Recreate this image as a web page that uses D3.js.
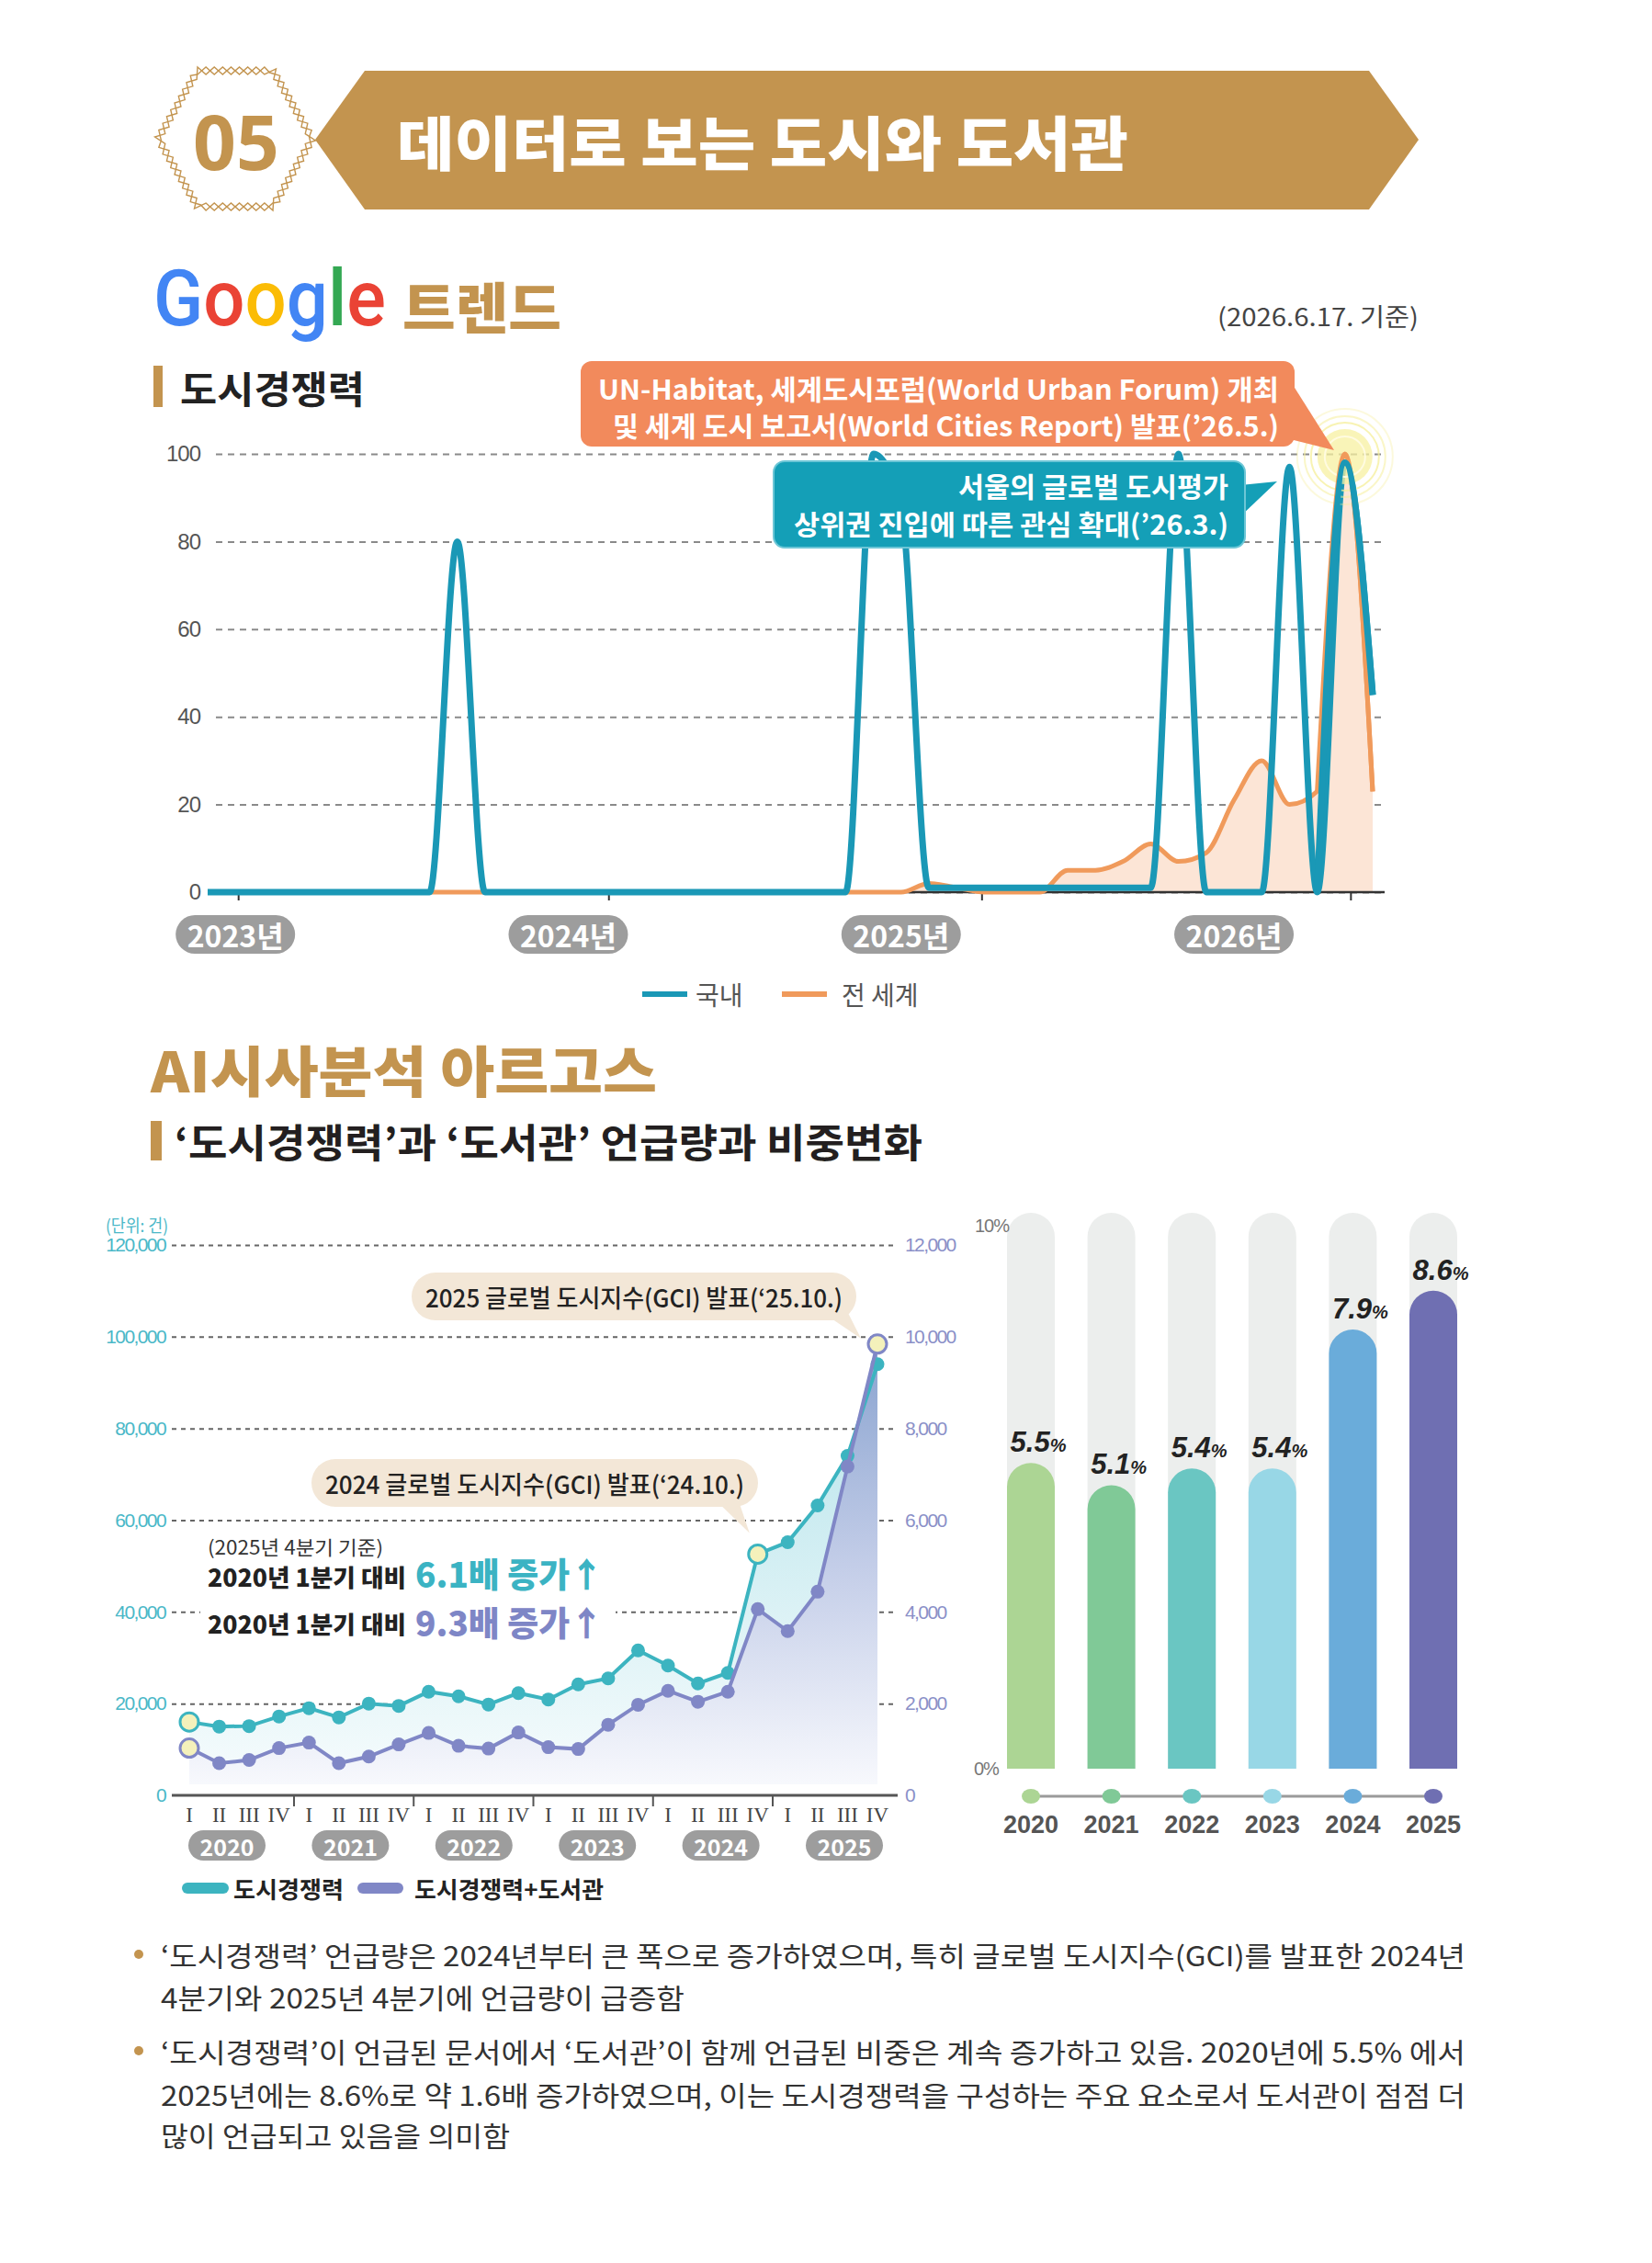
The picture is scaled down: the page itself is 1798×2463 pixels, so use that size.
<!DOCTYPE html>
<html>
<head>
<meta charset="utf-8">
<script src="https://cdn.jsdelivr.net/npm/d3@7"></script>
<style>
  body { margin: 0; background: #fff; }
  svg { display: block; }
</style>
</head>
<body>
<svg id="page"></svg>
<script>
// ---------- data ----------
// Google 트렌드 (도시경쟁력) : relative interest, monthly from 2022-12 to 2026-06
const trendMonths = d3.timeMonth.range(new Date(2022, 11, 1), new Date(2026, 6, 1)).map(d3.timeFormat('%Y-%m'));
const trendYearLabels = ['2023년', '2024년', '2025년', '2026년'];
const trendYearMonths = ['2023-01', '2024-01', '2025-01', '2026-01'];
const trendYearTicks = [1.1, 14.45, 27.9, 41.2];
const trendYTicks = [0, 20, 40, 60, 80, 100];
const trendDomestic = [0, 0, 0, 0, 0, 0, 0, 0, 0, 80, 0, 0, 0, 0, 0, 0, 0, 0, 0, 0, 0, 0, 0, 0,
                       100, 88, 1, 1, 1, 1, 1, 1, 1, 1, 1, 100, 0, 0, 0, 97, 0, 98, 45];
const trendWorld = [0, 0, 0, 0, 0, 0, 0, 0, 0, 0, 0, 0, 0, 0, 0, 0, 0, 0, 0, 0, 0, 0, 0, 0,
                    0, 0, 2, 1, 0, 0, 0, 5, 5, 7, 11, 7, 9, 21, 30, 20, 23, 100, 23];

// 아르고스 : quarterly mention counts
const quarterYears = ['2020', '2021', '2022', '2023', '2024', '2025'];
const quarterNames = ['I', 'II', 'III', 'IV'];
const cityMentions = [16000, 15000, 15100, 17200, 19000, 17000, 20000, 19500,
                      22600, 21600, 19800, 22300, 20900, 24200, 25500, 31600,
                      28300, 24400, 26700, 52600, 55200, 63200, 74000, 94000];
const cityLibMentions = [1030, 700, 770, 1030, 1150, 700, 845, 1110,
                         1360, 1080, 1020, 1370, 1050, 1010, 1540, 1975,
                         2280, 2040, 2260, 4060, 3580, 4440, 7170, 9840];
const leftTicks = [0, 20000, 40000, 60000, 80000, 100000, 120000];
const rightTicks = [0, 2000, 4000, 6000, 8000, 10000, 12000];

// 비중 (%)
const shareYears = ['2020', '2021', '2022', '2023', '2024', '2025'];
const shareValues = [5.5, 5.1, 5.4, 5.4, 7.9, 8.6];
const shareColors = ['#acd594', '#80c997', '#6ac6c2', '#98d7e6', '#6aacda', '#6f6fb2'];

// ---------- page ----------
const W = 1798, H = 2463;
const GOLD = '#c3944f';
const KR = "'Noto Sans CJK KR', 'Noto Sans', sans-serif";
const LAT = "'Liberation Sans', Arial, sans-serif";

const svg = d3.select('#page').attr('width', W).attr('height', H);

function label(g, x, y, s, o) {
    o = o || {};
    const t = g.append('text')
        .attr('x', x).attr('y', y)
        .attr('dominant-baseline', 'central')
        .attr('text-anchor', o.anchor || 'start')
        .style('font-family', o.font || KR)
        .style('font-size', (o.size || 28) + 'px')
        .style('font-weight', o.weight || 400)
        .style('fill', o.color || '#222')
        .text(s);
    if (o.ls) t.style('letter-spacing', o.ls + 'px');
    if (o.len) t.attr('textLength', o.len).attr('lengthAdjust', 'spacingAndGlyphs');
    return t;
}

// ---------- header ----------
function drawHeader() {
    const g = svg.append('g');

    // zigzag badge around "05"
    const hex = [[215, 77], [297, 77], [340, 151], [297, 225], [215, 225], [172, 151]];
    const pts = [];
    hex.forEach((p, k) => {
        const q = hex[(k + 1) % hex.length];
        const len = Math.hypot(q[0] - p[0], q[1] - p[1]);
        const n = Math.max(2, Math.round(len / 9));
        const nx = (q[1] - p[1]) / len, ny = -(q[0] - p[0]) / len;
        for (let j = 0; j < n; j++) {
            pts.push({ x: p[0] + (q[0] - p[0]) * j / n, y: p[1] + (q[1] - p[1]) * j / n, nx: nx, ny: ny });
        }
    });
    [1, -1].forEach(sign => {
        const line = pts.map((p, i) => {
            const s = (i % 2 ? 1 : -1) * sign * 4;
            return [p.x + p.nx * s, p.y + p.ny * s];
        });
        g.append('path')
            .attr('d', d3.line().curve(d3.curveLinearClosed)(line))
            .attr('fill', 'none').attr('stroke', GOLD).attr('stroke-width', 1.4);
    });
    label(g, 257, 153, '05', { anchor: 'middle', size: 82, weight: 700, color: GOLD, font: "'Noto Sans', sans-serif" });

    // banner
    g.append('path')
        .attr('d', d3.line()([[343, 152], [397, 77], [1490, 77], [1544, 152], [1490, 228], [397, 228]]) + 'Z')
        .attr('fill', GOLD);
    label(g, 432, 152, '데이터로 보는 도시와 도서관', { size: 64, weight: 900, color: '#fff', len: 796 });

    // Google 트렌드
    const gt = g.append('text').attr('x', 167).attr('y', 354)
        .style('font-family', "Roboto, 'Open Sans', sans-serif")
        .style('font-size', '86px').style('font-weight', 500)
        .attr('textLength', 253).attr('lengthAdjust', 'spacingAndGlyphs');
    [['G', '#4285f4'], ['o', '#ea4335'], ['o', '#fbbc05'], ['g', '#4285f4'], ['l', '#34a853'], ['e', '#ea4335']]
        .forEach(c => gt.append('tspan').style('fill', c[1]).text(c[0]));
    label(g, 438, 331, '트렌드', { size: 60, weight: 900, color: GOLD, len: 173 });
    label(g, 1544, 343, '(2026.6.17. 기준)', { anchor: 'end', size: 27, color: '#444', len: 219 });

    g.append('rect').attr('x', 167).attr('y', 398).attr('width', 10).attr('height', 45).attr('fill', GOLD);
    label(g, 196, 421, '도시경쟁력', { size: 41, weight: 700, color: '#222', len: 201 });

    // second section titles
    label(g, 164, 1162, 'AI시사분석 아르고스', { size: 60, weight: 900, color: GOLD, len: 551 });
    g.append('rect').attr('x', 164).attr('y', 1220).attr('width', 12).attr('height', 43).attr('fill', GOLD);
    label(g, 190, 1241, '‘도시경쟁력’과 ‘도서관’ 언급량과 비중변화', { size: 43, weight: 700, color: '#231f20', len: 814 });
}

// ---------- Google trend chart ----------
function drawTrend() {
    const g = svg.append('g');
    const x = d3.scaleLinear().domain([0, trendMonths.length - 1]).range([226, 1494]);
    const y = d3.scaleLinear().domain([0, 100]).range([971, 494]);
    const gridLeft = 235, gridRight = 1507;

    // grid + y labels
    const yAxis = g.append('g')
        .attr('transform', `translate(${gridLeft},0)`)
        .call(d3.axisLeft(y).tickValues(trendYTicks).tickSize(-(gridRight - gridLeft)).tickPadding(17));
    yAxis.select('.domain').remove();
    yAxis.selectAll('.tick line')
        .attr('stroke', '#8a8a8a').attr('stroke-width', 2).attr('stroke-dasharray', '7,6');
    yAxis.selectAll('.tick text')
        .style('font-family', LAT).style('font-size', '24px').style('fill', '#555').style('letter-spacing', '-1px');

    // series
    const curve = d3.curveMonotoneX;
    g.append('path').datum(trendWorld)
        .attr('d', d3.area().x((d, i) => x(i)).y0(y(0)).y1(d => y(d)).curve(curve))
        .attr('fill', '#fce5d6');

    // x axis
    g.append('line').attr('x1', 226).attr('x2', gridRight).attr('y1', y(0)).attr('y2', y(0))
        .attr('stroke', '#333').attr('stroke-width', 2.5);
    const xAxis = g.append('g')
        .attr('transform', `translate(0,${y(0)})`)
        .call(d3.axisBottom(x).tickValues(trendYearTicks).tickSize(9).tickFormat(''));
    xAxis.select('.domain').remove();
    xAxis.selectAll('.tick line').attr('stroke', '#333').attr('stroke-width', 2);

    g.append('path').datum(trendWorld)
        .attr('d', d3.line().x((d, i) => x(i)).y(d => y(d)).curve(curve))
        .attr('fill', 'none').attr('stroke', '#f09a5b').attr('stroke-width', 5);
    g.append('path').datum(trendDomestic)
        .attr('d', d3.line().x((d, i) => x(i)).y(d => y(d)).curve(curve))
        .attr('fill', 'none').attr('stroke', '#1a98b6').attr('stroke-width', 7).attr('stroke-linejoin', 'round');

    // year pills at each January
    trendYearMonths.forEach((m, i) => {
        const cx = x(trendMonths.indexOf(m));
        g.append('rect').attr('x', cx - 65).attr('y', 996).attr('width', 130).attr('height', 42)
            .attr('rx', 21).attr('fill', '#9d9d9d');
        label(g, cx, 1017, trendYearLabels[i], { anchor: 'middle', size: 32, weight: 700, color: '#fff' });
    });

    // glow on world peak
    const peak = trendWorld.indexOf(d3.max(trendWorld));
    const gx = x(peak), gy = y(trendWorld[peak]) + 3;
    [52, 44, 37].forEach((r, k) => {
        g.append('circle').attr('cx', gx).attr('cy', gy).attr('r', r)
            .attr('fill', 'none').attr('stroke', '#f6ef9a').attr('stroke-width', 2).attr('opacity', 0.35 + k * 0.2);
    });
    g.append('circle').attr('cx', gx).attr('cy', gy).attr('r', 30).attr('fill', '#f7f0a0').attr('opacity', 0.75);
    g.append('circle').attr('cx', gx).attr('cy', gy).attr('r', 22).attr('fill', 'none')
        .attr('stroke', '#fffbe0').attr('stroke-width', 2);
    // redraw the peak on top of the glow
    g.append('path').datum(trendWorld)
        .attr('d', d3.line().x((d, i) => x(i)).y(d => y(d)).curve(curve).defined((d, i) => i >= peak - 1))
        .attr('fill', 'none').attr('stroke', '#f09a5b').attr('stroke-width', 5);
    g.append('path').datum(trendDomestic)
        .attr('d', d3.line().x((d, i) => x(i)).y(d => y(d)).curve(curve).defined((d, i) => i >= peak - 1))
        .attr('fill', 'none').attr('stroke', '#1a98b6').attr('stroke-width', 7);

    // orange callout
    g.append('path').attr('d', 'M1404,414 L1404,478 L1452,490 Z').attr('fill', '#f28a5c');
    g.append('rect').attr('x', 632).attr('y', 393).attr('width', 777).attr('height', 93).attr('rx', 12)
        .attr('fill', '#f28a5c');
    label(g, 1392, 422, 'UN-Habitat, 세계도시포럼(World Urban Forum) 개최', { anchor: 'end', size: 30, weight: 700, color: '#fff', len: 741 });
    label(g, 1392, 462, '및 세계 도시 보고서(World Cities Report) 발표(’26.5.)', { anchor: 'end', size: 30, weight: 700, color: '#fff', len: 725 });

    // teal callout
    g.append('path').attr('d', 'M1350,528 L1350,562 L1390,524 Z').attr('fill', '#149fb7');
    g.append('rect').attr('x', 842).attr('y', 502).attr('width', 513).attr('height', 94).attr('rx', 12)
        .attr('fill', '#149fb7').attr('stroke', '#6cc6d6').attr('stroke-width', 2);
    label(g, 1337, 528, '서울의 글로벌 도시평가', { anchor: 'end', size: 30, weight: 700, color: '#fff', len: 294 });
    label(g, 1337, 569, '상위권 진입에 따른 관심 확대(’26.3.)', { anchor: 'end', size: 30, weight: 700, color: '#fff', len: 473 });

    // legend
    g.append('line').attr('x1', 699).attr('x2', 748).attr('y1', 1082).attr('y2', 1082)
        .attr('stroke', '#1a98b6').attr('stroke-width', 6);
    label(g, 757, 1082, '국내', { size: 28, color: '#555' });
    g.append('line').attr('x1', 851).attr('x2', 900).attr('y1', 1082).attr('y2', 1082)
        .attr('stroke', '#f09a5b').attr('stroke-width', 6);
    label(g, 916, 1082, '전 세계', { size: 28, color: '#555' });
}

// ---------- quarterly mentions chart ----------
function drawQuarter() {
    const g = svg.append('g');
    const x = d3.scaleLinear().domain([0, cityMentions.length - 1]).range([206, 955]);
    const yL = d3.scaleLinear().domain([0, 120000]).range([1954, 1355]);
    const yR = d3.scaleLinear().domain([0, 12000]).range([1954, 1355]);
    const pill = d3.scalePoint().domain(quarterYears).range([247, 919]);
    const left = 187, right = 977;
    const TEAL = '#3cb4c0', PURP = '#8087c6';

    const defs = svg.append('defs');
    const gradA = defs.append('linearGradient').attr('id', 'gTeal')
        .attr('gradientUnits', 'userSpaceOnUse').attr('x1', 0).attr('x2', 0).attr('y1', 1480).attr('y2', 1945);
    gradA.append('stop').attr('offset', 0).attr('stop-color', '#b4e3ea');
    gradA.append('stop').attr('offset', 1).attr('stop-color', '#f7fcfd');
    const gradB = defs.append('linearGradient').attr('id', 'gPurp')
        .attr('gradientUnits', 'userSpaceOnUse').attr('x1', 0).attr('x2', 0).attr('y1', 1460).attr('y2', 1945);
    gradB.append('stop').attr('offset', 0).attr('stop-color', '#88a2cf');
    gradB.append('stop').attr('offset', 0.5).attr('stop-color', '#c3cde8');
    gradB.append('stop').attr('offset', 1).attr('stop-color', '#f8f9fd');

    // grid + axes labels
    const ax = g.append('g').attr('transform', `translate(${left},0)`)
        .call(d3.axisLeft(yL).tickValues(leftTicks).tickFormat(d3.format(','))
            .tickSize(-(right - left)).tickPadding(7));
    ax.select('.domain').remove();
    ax.selectAll('.tick line').attr('stroke', '#666').attr('stroke-width', 2).attr('stroke-dasharray', '5,5')
        .filter(d => d === 0).remove();
    ax.selectAll('.tick text').style('font-family', LAT).style('font-size', '21px')
        .style('fill', '#4ab8c8').style('letter-spacing', '-1.6px');
    const axR = g.append('g').attr('transform', `translate(${right},0)`)
        .call(d3.axisRight(yR).tickValues(rightTicks).tickFormat(d3.format(',')).tickSize(0).tickPadding(8));
    axR.select('.domain').remove();
    axR.selectAll('.tick text').style('font-family', LAT).style('font-size', '21px')
        .style('fill', '#8a90c8').style('letter-spacing', '-1.6px');
    label(g, 115, 1332, '(단위: 건)', { size: 19, color: '#4ab8c8', len: 68 });

    // areas
    const base = yL(0) - 12;
    g.append('path').datum(cityMentions)
        .attr('d', d3.area().x((d, i) => x(i)).y0(base).y1(d => yL(d)))
        .attr('fill', 'url(#gTeal)');
    g.append('path').datum(cityLibMentions)
        .attr('d', d3.area().x((d, i) => x(i)).y0(base).y1(d => yR(d)))
        .attr('fill', 'url(#gPurp)');

    // text block (drawn before lines so it can hide the grid)
    g.append('rect').attr('x', 218).attr('y', 1742).attr('width', 452).attr('height', 46).attr('fill', '#fff');
    label(g, 226, 1683, '(2025년 4분기 기준)', { size: 21, color: '#333', len: 191 });
    label(g, 226, 1715, '2020년 1분기 대비', { size: 26, weight: 900, color: '#222', len: 216 });
    label(g, 452, 1712, '6.1배 증가↑', { size: 37, weight: 900, color: '#3bb3c3', len: 205 });
    label(g, 226, 1766, '2020년 1분기 대비', { size: 26, weight: 900, color: '#222', len: 216 });
    label(g, 452, 1765, '9.3배 증가↑', { size: 37, weight: 900, color: '#7e86c6', len: 205 });

    // lines + points
    [[cityMentions, yL, TEAL, [0, 19]], [cityLibMentions, yR, PURP, [0, 23]]].forEach(s => {
        const vals = s[0], ys = s[1], col = s[2], hi = s[3];
        g.append('path').datum(vals)
            .attr('d', d3.line().x((d, i) => x(i)).y(d => ys(d)))
            .attr('fill', 'none').attr('stroke', col).attr('stroke-width', 4);
        g.selectAll(null).data(vals).enter().append('circle')
            .attr('cx', (d, i) => x(i)).attr('cy', d => ys(d))
            .attr('r', (d, i) => hi.includes(i) ? 10 : 7.5)
            .attr('fill', (d, i) => hi.includes(i) ? '#f4f1bb' : col)
            .attr('stroke', col).attr('stroke-width', (d, i) => hi.includes(i) ? 3 : 0);
    });

    // x axis
    g.append('line').attr('x1', left).attr('x2', right).attr('y1', yL(0)).attr('y2', yL(0))
        .attr('stroke', '#555').attr('stroke-width', 3);
    quarterYears.forEach((yr, k) => {
        if (k === 0) return;
        const sx = (x(k * 4 - 1) + x(k * 4)) / 2;
        g.append('line').attr('x1', sx).attr('x2', sx).attr('y1', yL(0)).attr('y2', yL(0) + 12)
            .attr('stroke', '#555').attr('stroke-width', 2);
    });
    cityMentions.forEach((d, i) => {
        label(g, x(i), 1975, quarterNames[i % 4], { anchor: 'middle', size: 23, color: '#444', font: "'Liberation Serif', serif" });
    });
    quarterYears.forEach(yr => {
        const cx = pill(yr);
        g.append('rect').attr('x', cx - 42).attr('y', 1992).attr('width', 84).attr('height', 33)
            .attr('rx', 16.5).attr('fill', '#9d9d9d');
        label(g, cx, 2008.5, yr, { anchor: 'middle', size: 25, weight: 700, color: '#fff' });
    });

    // bubbles
    const bubble = (bx, by, bw, tail, s) => {
        g.append('path').attr('d', `M${tail[0]},${by + 40} L${tail[1]},${by + 40} L${tail[2]},${tail[3]} Z`)
            .attr('fill', '#f3e7d7');
        g.append('rect').attr('x', bx).attr('y', by).attr('width', bw).attr('height', 52).attr('rx', 26)
            .attr('fill', '#f3e7d7');
        label(g, bx + bw / 2, by + 26, s, { anchor: 'middle', size: 27, weight: 500, color: '#222', len: bw - 30 });
    };
    bubble(448, 1385, 484, [890, 921, x(23) - 18, yR(cityLibMentions[23]) - 6], '2025 글로벌 도시지수(GCI) 발표(‘25.10.)');
    bubble(339, 1588, 486, [774, 802, x(19) - 9, yL(cityMentions[19]) - 23], '2024 글로벌 도시지수(GCI) 발표(‘24.10.)');

    // legend
    g.append('line').attr('x1', 204).attr('x2', 243).attr('y1', 2055).attr('y2', 2055)
        .attr('stroke', TEAL).attr('stroke-width', 12).attr('stroke-linecap', 'round');
    label(g, 254, 2055, '도시경쟁력', { size: 25, weight: 700, color: '#222', len: 120 });
    label(g, 451, 2055, '도시경쟁력+도서관', { size: 25, weight: 700, color: '#222', len: 206 });
    g.append('line').attr('x1', 395).attr('x2', 433).attr('y1', 2055).attr('y2', 2055)
        .attr('stroke', PURP).attr('stroke-width', 12).attr('stroke-linecap', 'round');
}

// ---------- share bars ----------
function drawShare() {
    const g = svg.append('g');
    const x = d3.scalePoint().domain(shareYears).range([1122, 1560]);
    const y = d3.scaleLinear().domain([0, 10]).range([1925, 1320]);
    const bw = 52, r = bw / 2;
    const capped = (cx, top) =>
        `M${cx - r},${y(0)} V${top + r} A${r},${r} 0 0 1 ${cx + r},${top + r} V${y(0)} Z`;

    g.selectAll('.track').data(shareYears).enter().append('path')
        .attr('d', d => capped(x(d), y(10))).attr('fill', '#eceeed');
    g.selectAll('.bar').data(shareValues).enter().append('path')
        .attr('d', (d, i) => capped(x(shareYears[i]), y(d)))
        .attr('fill', (d, i) => shareColors[i]);

    const vl = g.selectAll('.val').data(shareValues).enter().append('text')
        .attr('x', (d, i) => x(shareYears[i]) + 8).attr('y', d => y(d) - 12)
        .attr('text-anchor', 'middle')
        .style('font-family', LAT).style('font-weight', 700).style('font-style', 'italic')
        .style('fill', '#222');
    vl.append('tspan').style('font-size', '31px').text(d => d.toFixed(1));
    vl.append('tspan').style('font-size', '20px').text('%');

    label(g, 1061, 1334, '10%', { size: 20, color: '#777', font: LAT, ls: -1 });
    label(g, 1060, 1925, '0%', { size: 20, color: '#777', font: LAT, ls: -1 });

    g.append('line').attr('x1', x(shareYears[0])).attr('x2', x(shareYears[shareYears.length - 1]))
        .attr('y1', 1955).attr('y2', 1955).attr('stroke', '#9a9a9a').attr('stroke-width', 3);
    g.selectAll('.dot').data(shareYears).enter().append('ellipse')
        .attr('cx', d => x(d)).attr('cy', 1955).attr('rx', 10).attr('ry', 8)
        .attr('fill', (d, i) => shareColors[i]);
    shareYears.forEach(d => label(g, x(d), 1986, d, { anchor: 'middle', size: 27, weight: 700, color: '#555', font: LAT }));
}

// ---------- notes ----------
function drawNotes() {
    const g = svg.append('g');
    const lines = [
        ['‘도시경쟁력’ 언급량은 2024년부터 큰 폭으로 증가하였으며, 특히 글로벌 도시지수(GCI)를 발표한 2024년', 2127, 1420],
        ['4분기와 2025년 4분기에 언급량이 급증함', 2173, 570],
        ['‘도시경쟁력’이 언급된 문서에서 ‘도서관’이 함께 언급된 비중은 계속 증가하고 있음. 2020년에 5.5% 에서', 2232, 1420],
        ['2025년에는 8.6%로 약 1.6배 증가하였으며, 이는 도시경쟁력을 구성하는 주요 요소로서 도서관이 점점 더', 2279, 1420],
        ['많이 언급되고 있음을 의미함', 2323, 380]
    ];
    lines.forEach(l => label(g, 175, l[1], l[0], { size: 30, color: '#333', len: l[2] }));
    [2127, 2232].forEach(cy => g.append('circle').attr('cx', 151).attr('cy', cy).attr('r', 5).attr('fill', GOLD));
}

drawHeader();
drawTrend();
drawQuarter();
drawShare();
drawNotes();
</script>
</body>
</html>
